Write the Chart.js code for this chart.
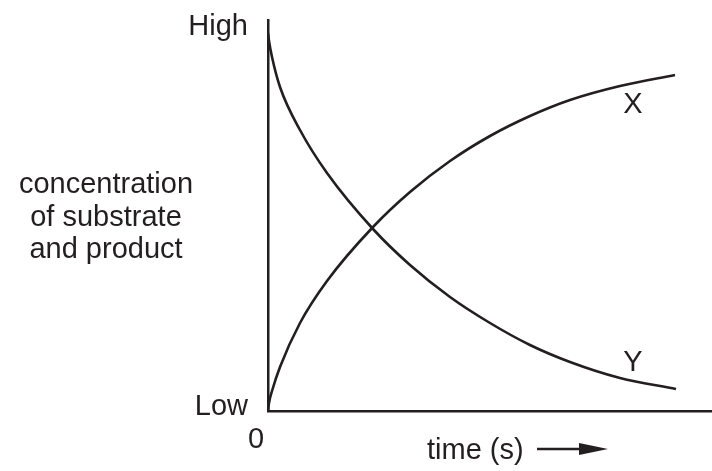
<!DOCTYPE html>
<html>
<head>
<meta charset="utf-8">
<script src="https://cdn.jsdelivr.net/npm/chart.js@4"></script>
<style>
html,body{margin:0;padding:0;background:#fff;}
#wrap{position:relative;width:712px;height:471px;}
</style>
</head>
<body>
<div id="wrap"><canvas id="c"></canvas></div>
<script>
// time positions (arbitrary units along the time axis)
const timeY = [0, 1, 4, 12, 32, 59, 105, 142, 182, 222, 262, 302, 352, 408];
const seriesY = [378, 370, 354, 324, 281, 238, 182, 146, 114, 88, 66, 49, 33, 22];
const timeX = [0, 1, 4, 12, 32, 59, 105, 142, 182, 222, 262, 302, 352, 407];
const seriesX = [0, 8, 20, 44, 88, 130, 184, 219, 250, 275, 295, 311, 325, 336];
const yTickLabels = ["Low", "High"];
const xTickLabels = ["0"];
const yTitle = ["concentration", "of substrate", "and product"];
const xTitle = "time (s)";
const curveLabels = ["X", "Y"];

const INK = '#231f20';
const FONT = '29px "Liberation Sans", Arial, sans-serif';

const pts = (xs, ys) => xs.map((x, i) => ({x: x, y: ys[i]}));

const textPlugin = {
  id: 'texts',
  afterDraw(chart) {
    const ctx = chart.ctx;
    const xs = chart.scales.x, ys = chart.scales.y;
    const left = xs.getPixelForValue(0), bottom = ys.getPixelForValue(0);
    ctx.save();
    ctx.fillStyle = INK;
    ctx.font = FONT;
    ctx.textBaseline = 'alphabetic';
    // y tick labels
    ctx.textAlign = 'right';
    ctx.fillText(yTickLabels[1], left - 20, ys.getPixelForValue(376));
    ctx.fillText(yTickLabels[0], left - 20, bottom + 4);
    // x tick label
    ctx.textAlign = 'center';
    ctx.fillText(xTickLabels[0], left - 12, bottom + 37);
    // y title
    yTitle.forEach((t, i) => ctx.fillText(t, 106, 193 + i * 32.5));
    // x title with arrow
    ctx.textAlign = 'left';
    ctx.fillText(xTitle, 427, 459);
    ctx.strokeStyle = INK;
    ctx.lineWidth = 2.6;
    ctx.beginPath();
    ctx.moveTo(537, 449); ctx.lineTo(585, 449); ctx.stroke();
    ctx.beginPath();
    ctx.moveTo(579, 443); ctx.lineTo(608, 449); ctx.lineTo(579, 455); ctx.closePath(); ctx.fill();
    // curve labels
    ctx.textAlign = 'center';
    ctx.fillText(curveLabels[0], xs.getPixelForValue(365), ys.getPixelForValue(298));
    ctx.fillText(curveLabels[1], xs.getPixelForValue(365), ys.getPixelForValue(40));
    ctx.restore();
  }
};

new Chart(document.getElementById('c'), {
  type: 'scatter',
  data: {
    datasets: [
      {label: curveLabels[0], data: pts(timeX, seriesX)},
      {label: curveLabels[1], data: pts(timeY, seriesY)}
    ].map(d => Object.assign(d, {
      showLine: true, borderColor: INK, borderWidth: 2.6, pointRadius: 0,
      cubicInterpolationMode: 'monotone', fill: false
    }))
  },
  options: {
    responsive: true, maintainAspectRatio: false, animation: false,
    layout: {padding: {left: 268, top: 20, right: 0, bottom: 60}},
    plugins: {legend: {display: false}, tooltip: {enabled: false}},
    scales: {
      x: {type: 'linear', min: 0, max: 444,
          ticks: {display: false}, grid: {display: false, drawTicks: false},
          border: {display: true, color: INK, width: 2.5}},
      y: {type: 'linear', min: 0, max: 391,
          ticks: {display: false}, grid: {display: false, drawTicks: false},
          border: {display: true, color: INK, width: 2.5}}
    }
  },
  plugins: [textPlugin]
});
</script>
</body>
</html>
